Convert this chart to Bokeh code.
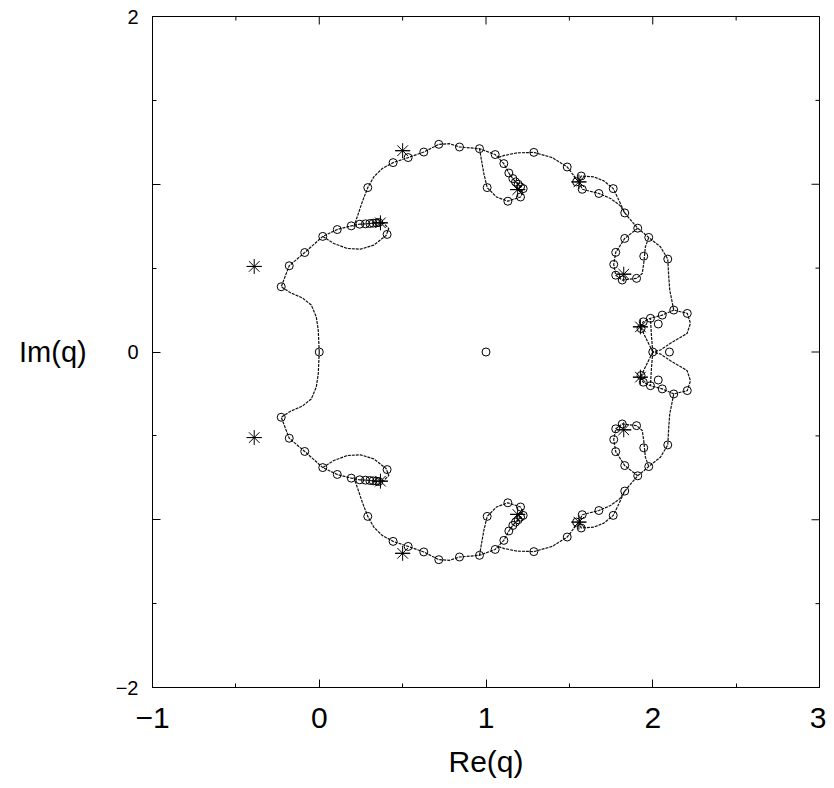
import math
from bokeh.plotting import figure
from bokeh.models import LinearAxis, SingleIntervalTicker
from bokeh.embed import file_html
from bokeh.resources import INLINE

# ---------------- data ----------------
# boundary curves, upper half-plane
c1_x = [0.0, -0.006, -0.018, -0.048, -0.102, -0.172, -0.228, -0.180, -0.087, 0.021, 0.108, 0.192, 0.243, 0.277, 0.303, 0.323, 0.343, 0.367]
c1_y = [0.0, 0.131, 0.210, 0.280, 0.323, 0.353, 0.389, 0.514, 0.593, 0.689, 0.730, 0.752, 0.762, 0.764, 0.766, 0.768, 0.770, 0.770]
c2_x = [0.021, 0.087, 0.168, 0.247, 0.327, 0.401, 0.417, 0.387, 0.367]
c2_y = [0.689, 0.647, 0.617, 0.613, 0.637, 0.695, 0.736, 0.766, 0.770]
c3_x = [0.207, 0.231, 0.258, 0.291, 0.327, 0.377, 0.443, 0.533, 0.627, 0.717, 0.780, 0.841, 0.961, 1.055, 1.107, 1.137, 1.161, 1.177, 1.193, 1.207, 1.190]
c3_y = [0.746, 0.815, 0.895, 0.980, 1.044, 1.093, 1.129, 1.159, 1.192, 1.238, 1.242, 1.222, 1.212, 1.177, 1.123, 1.067, 1.034, 1.014, 1.000, 0.984, 0.968]
c4_x = [0.961, 0.973, 0.987, 1.007, 1.063, 1.131, 1.207, 1.221, 1.190]
c4_y = [1.212, 1.143, 1.064, 0.980, 0.924, 0.899, 0.924, 0.954, 0.968]
c5_x = [1.075, 1.110, 1.187, 1.287, 1.397, 1.487, 1.517, 1.557]
c5_y = [1.160, 1.172, 1.187, 1.190, 1.159, 1.103, 1.064, 1.014]
c6_x = [1.557, 1.571, 1.647, 1.707, 1.763, 1.797, 1.832]
c6_y = [1.014, 1.049, 1.044, 1.020, 0.974, 0.905, 0.829]
c7_x = [1.557, 1.577, 1.677, 1.747, 1.802, 1.832]
c7_y = [1.014, 0.970, 0.945, 0.915, 0.875, 0.829]
c8_x = [1.832, 1.877, 1.910, 1.976, 2.046, 2.090, 2.096, 2.102, 2.126, 2.207, 2.226, 2.206, 2.106, 2.046, 2.0]
c8_y = [0.829, 0.776, 0.738, 0.683, 0.627, 0.554, 0.448, 0.369, 0.250, 0.230, 0.171, 0.111, 0.052, 0.012, 0.0]
c9_x = [1.910, 1.832, 1.778, 1.766, 1.778, 1.817, 1.903, 1.937, 1.946, 1.956, 1.976]
c9_y = [0.738, 0.677, 0.594, 0.522, 0.458, 0.429, 0.439, 0.468, 0.528, 0.627, 0.683]
c10_x = [1.926, 1.943, 1.986, 2.057, 2.126]
c10_y = [0.150, 0.180, 0.201, 0.220, 0.250]
c11_x = [2.0, 1.992, 1.986]
c11_y = [0.0, 0.100, 0.201]
c12_x = [2.0, 1.963, 1.926]
c12_y = [0.0, 0.075, 0.150]

# boundary curves, lower half-plane
d1_x = [0.0, -0.006, -0.018, -0.048, -0.102, -0.172, -0.228, -0.180, -0.087, 0.021, 0.108, 0.192, 0.243, 0.277, 0.303, 0.323, 0.343, 0.367]
d1_y = [0.0, -0.131, -0.210, -0.280, -0.323, -0.353, -0.389, -0.514, -0.593, -0.689, -0.730, -0.752, -0.762, -0.764, -0.766, -0.768, -0.770, -0.770]
d2_x = [0.021, 0.087, 0.168, 0.247, 0.327, 0.401, 0.417, 0.387, 0.367]
d2_y = [-0.689, -0.647, -0.617, -0.613, -0.637, -0.695, -0.736, -0.766, -0.770]
d3_x = [0.207, 0.231, 0.258, 0.291, 0.327, 0.377, 0.443, 0.533, 0.627, 0.717, 0.780, 0.841, 0.961, 1.055, 1.107, 1.137, 1.161, 1.177, 1.193, 1.207, 1.190]
d3_y = [-0.746, -0.815, -0.895, -0.980, -1.044, -1.093, -1.129, -1.159, -1.192, -1.238, -1.242, -1.222, -1.212, -1.177, -1.123, -1.067, -1.034, -1.014, -1.000, -0.984, -0.968]
d4_x = [0.961, 0.973, 0.987, 1.007, 1.063, 1.131, 1.207, 1.221, 1.190]
d4_y = [-1.212, -1.143, -1.064, -0.980, -0.924, -0.899, -0.924, -0.954, -0.968]
d5_x = [1.075, 1.110, 1.187, 1.287, 1.397, 1.487, 1.517, 1.557]
d5_y = [-1.160, -1.172, -1.187, -1.190, -1.159, -1.103, -1.064, -1.014]
d6_x = [1.557, 1.571, 1.647, 1.707, 1.763, 1.797, 1.832]
d6_y = [-1.014, -1.049, -1.044, -1.020, -0.974, -0.905, -0.829]
d7_x = [1.557, 1.577, 1.677, 1.747, 1.802, 1.832]
d7_y = [-1.014, -0.970, -0.945, -0.915, -0.875, -0.829]
d8_x = [1.832, 1.877, 1.910, 1.976, 2.046, 2.090, 2.096, 2.102, 2.126, 2.207, 2.226, 2.206, 2.106, 2.046, 2.0]
d8_y = [-0.829, -0.776, -0.738, -0.683, -0.627, -0.554, -0.448, -0.369, -0.250, -0.230, -0.171, -0.111, -0.052, -0.012, 0.0]
d9_x = [1.910, 1.832, 1.778, 1.766, 1.778, 1.817, 1.903, 1.937, 1.946, 1.956, 1.976]
d9_y = [-0.738, -0.677, -0.594, -0.522, -0.458, -0.429, -0.439, -0.468, -0.528, -0.627, -0.683]
d10_x = [1.926, 1.943, 1.986, 2.057, 2.126]
d10_y = [-0.150, -0.180, -0.201, -0.220, -0.250]
d11_x = [2.0, 1.992, 1.986]
d11_y = [0.0, -0.100, -0.201]
d12_x = [2.0, 1.963, 1.926]
d12_y = [0.0, -0.075, -0.150]

# zeros drawn as open circles
circ_up_x = [-0.228, -0.180, -0.087, 0.021, 0.108, 0.192, 0.243, 0.277, 0.303, 0.323, 0.343, 0.357, 0.407, 0.291,
             0.443, 0.533, 0.627, 0.717, 0.841, 0.961, 1.055, 1.107, 1.137, 1.161, 1.177, 1.193, 1.207, 1.223,
             1.207, 1.131, 1.007, 1.287, 1.487, 1.571, 1.543, 1.577, 1.677, 1.763, 1.832, 1.910, 1.976, 1.832,
             1.778, 1.766, 1.778, 1.817, 1.903, 1.946, 2.090, 2.126, 2.207, 2.057, 1.986, 1.943, 1.930, 2.033]
circ_up_y = [0.389, 0.514, 0.593, 0.689, 0.730, 0.752, 0.762, 0.764, 0.766, 0.768, 0.770, 0.772, 0.701, 0.980,
             1.129, 1.159, 1.192, 1.238, 1.222, 1.212, 1.177, 1.123, 1.067, 1.034, 1.014, 1.000, 0.984, 0.974,
             0.924, 0.899, 0.980, 1.190, 1.103, 1.049, 1.014, 0.970, 0.945, 0.974, 0.829, 0.738, 0.683, 0.677,
             0.594, 0.522, 0.458, 0.429, 0.439, 0.571, 0.554, 0.250, 0.230, 0.220, 0.201, 0.180, 0.140, 0.167]
circ_lo_x = [-0.228, -0.180, -0.087, 0.021, 0.108, 0.192, 0.243, 0.277, 0.303, 0.323, 0.343, 0.357, 0.407, 0.291,
             0.443, 0.533, 0.627, 0.717, 0.841, 0.961, 1.055, 1.107, 1.137, 1.161, 1.177, 1.193, 1.207, 1.223,
             1.207, 1.131, 1.007, 1.287, 1.487, 1.571, 1.543, 1.577, 1.677, 1.763, 1.832, 1.910, 1.976, 1.832,
             1.778, 1.766, 1.778, 1.817, 1.903, 1.946, 2.090, 2.126, 2.207, 2.057, 1.986, 1.943, 1.930, 2.033]
circ_lo_y = [-0.389, -0.514, -0.593, -0.689, -0.730, -0.752, -0.762, -0.764, -0.766, -0.768, -0.770, -0.772, -0.701, -0.980,
             -1.129, -1.159, -1.192, -1.238, -1.222, -1.212, -1.177, -1.123, -1.067, -1.034, -1.014, -1.000, -0.984, -0.974,
             -0.924, -0.899, -0.980, -1.190, -1.103, -1.049, -1.014, -0.970, -0.945, -0.974, -0.829, -0.738, -0.683, -0.677,
             -0.594, -0.522, -0.458, -0.429, -0.439, -0.571, -0.554, -0.250, -0.230, -0.220, -0.201, -0.180, -0.140, -0.167]
circ_axis_x = [0.0, 1.0, 2.0, 2.10]
circ_axis_y = [0.0, 0.0, 0.0, 0.0]

# zeros drawn as asterisks
star_x = [-0.39, 0.50, 0.367, 1.190, 1.557, 1.826, 1.926, -0.39, 0.50, 0.367, 1.190, 1.557, 1.826, 1.926]
star_y = [0.51, 1.20, 0.770, 0.968, 1.014, 0.464, 0.150, -0.51, -1.20, -0.770, -0.968, -1.014, -0.464, -0.150]

# ticks
x_major = [-1, 0, 1, 2, 3]
x_minor = [-0.5, 0.5, 1.5, 2.5]
y_major = [-2, -1, 0, 1, 2]
y_minor = [-1.5, -0.5, 0.5, 1.5]
x_tick_labels = {-1: "\u22121", 0: "0", 1: "1", 2: "2", 3: "3"}
y_tick_labels = {-2: "\u22122", -1: "", 0: "0", 1: "", 2: "2"}

# ---------------- figure ----------------
FONT = "Liberation Sans"
p = figure(width=826, height=780, x_range=(-1, 3), y_range=(-2, 2),
           output_backend="svg", toolbar_location=None,
           min_border_left=152, min_border_right=7, min_border_top=16, min_border_bottom=92)
p.grid.visible = False
p.outline_line_color = "black"
p.outline_line_width = 1
p.background_fill_color = "white"
p.border_fill_color = "white"

xs = [c1_x, c2_x, c3_x, c4_x, c5_x, c6_x, c7_x, c8_x, c9_x, c10_x, c11_x, c12_x,
      d1_x, d2_x, d3_x, d4_x, d5_x, d6_x, d7_x, d8_x, d9_x, d10_x, d11_x, d12_x]
ys = [c1_y, c2_y, c3_y, c4_y, c5_y, c6_y, c7_y, c8_y, c9_y, c10_y, c11_y, c12_y,
      d1_y, d2_y, d3_y, d4_y, d5_y, d6_y, d7_y, d8_y, d9_y, d10_y, d11_y, d12_y]
p.multi_line(xs, ys, line_color="#111111", line_width=1.2, line_dash="3 1")

p.scatter(circ_up_x, circ_up_y, marker="circle", size=8, fill_color=None, line_color="black", line_width=1)
p.scatter(circ_lo_x, circ_lo_y, marker="circle", size=8, fill_color=None, line_color="black", line_width=1)
p.scatter(circ_axis_x, circ_axis_y, marker="circle", size=8, fill_color=None, line_color="black", line_width=1)
p.scatter(star_x, star_y, marker="asterisk", size=15, line_color="black", line_width=1)
p.scatter(star_x, star_y, marker="dash", size=15, line_color="black", line_width=1)

# inward tick marks on the top and right edges (half of each dash is clipped by the frame)
p.scatter(x_major, [2] * len(x_major), marker="dash", angle=math.pi / 2, size=16, line_color="black", line_width=1)
p.scatter(x_minor, [2] * len(x_minor), marker="dash", angle=math.pi / 2, size=8, line_color="black", line_width=1)
p.scatter([3] * len(y_major), y_major, marker="dash", size=16, line_color="black", line_width=1)
p.scatter([3] * len(y_minor), y_minor, marker="dash", size=8, line_color="black", line_width=1)


def style_axis(ax, labels, fsize):
    ax.ticker = SingleIntervalTicker(interval=1, num_minor_ticks=2)
    ax.major_tick_in = 8
    ax.major_tick_out = 0
    ax.minor_tick_in = 4
    ax.minor_tick_out = 0
    ax.axis_line_color = "black"
    ax.major_tick_line_color = "black"
    ax.minor_tick_line_color = "black"
    ax.major_label_text_font = FONT
    ax.major_label_text_color = "black"
    ax.major_label_overrides = labels
    ax.major_label_text_font_size = fsize
    ax.axis_label_text_font = FONT
    ax.axis_label_text_font_style = "normal"
    ax.axis_label_text_color = "black"


xa = p.xaxis[0]
style_axis(xa, x_tick_labels, "30px")
xa.major_label_standoff = 20
xa.axis_label = "Re(q)"
xa.axis_label_text_font_size = "30px"
xa.axis_label_standoff = 14

ya = p.yaxis[0]
style_axis(ya, y_tick_labels, "20px")
ya.major_label_standoff = 14
ya.axis_label = "Im(q)"
ya.axis_label_text_font_size = "29px"
ya.axis_label_standoff = 26
if "axis_label_orientation" in ya.properties():
    ya.axis_label_orientation = "horizontal"

open("out.html", "w").write(file_html(p, INLINE))
